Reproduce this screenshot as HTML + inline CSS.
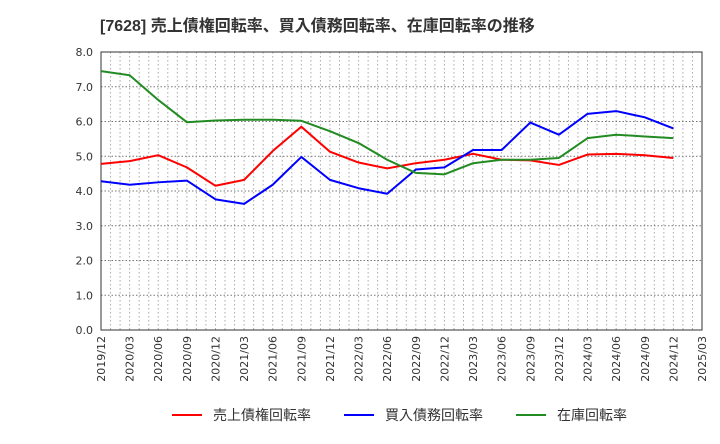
<!DOCTYPE html>
<html><head><meta charset="utf-8"><style>
body{margin:0;background:#fff;font-family:"DejaVu Sans","Noto Sans CJK JP",sans-serif;}
</style></head><body>
<svg width="720" height="440" xmlns="http://www.w3.org/2000/svg">
<text x="100" y="31" font-size="16" font-weight="bold" fill="#333" font-family="Liberation Sans,Noto Sans CJK JP,sans-serif">[7628]  売上債権回転率、買入債務回転率、在庫回転率の推移</text>
<g id="grid"></g><g id="axes"></g><g id="series"></g>
<g font-size="14" fill="#333" font-family="Liberation Sans,Noto Sans CJK JP,sans-serif">
<line x1="172" y1="415" x2="202" y2="415" stroke="#ff0000" stroke-width="2"/><text x="213" y="420">売上債権回転率</text>
<line x1="344" y1="415" x2="374" y2="415" stroke="#0000ff" stroke-width="2"/><text x="385" y="420">買入債務回転率</text>
<line x1="516" y1="415" x2="546" y2="415" stroke="#228b22" stroke-width="2"/><text x="557" y="420">在庫回転率</text>
</g>
</svg>
<script>
const xLabels=["2019/12","2020/03","2020/06","2020/09","2020/12","2021/03","2021/06","2021/09","2021/12","2022/03","2022/06","2022/09","2022/12","2023/03","2023/06","2023/09","2023/12","2024/03","2024/06","2024/09","2024/12","2025/03"];
const yTicks=[0,1,2,3,4,5,6,7,8];
const receivables=[4.78,4.86,5.03,4.68,4.15,4.32,5.15,5.85,5.13,4.82,4.65,4.80,4.90,5.07,4.90,4.88,4.75,5.05,5.07,5.03,4.95];
const payables=[4.28,4.18,4.25,4.30,3.76,3.63,4.18,4.98,4.32,4.08,3.92,4.62,4.68,5.18,5.18,5.97,5.62,6.22,6.30,6.12,5.80];
const inventory=[7.45,7.33,6.62,5.98,6.03,6.05,6.05,6.02,5.72,5.38,4.90,4.52,4.48,4.80,4.90,4.90,4.95,5.52,5.62,5.57,5.52];
const L=101,R=702,T=52,B=330,NS="http://www.w3.org/2000/svg";
const step=(R-L)/(xLabels.length-1);
const xs=i=>L+i*step, ys=v=>B-(v/8)*(B-T);
function mk(tag,attrs,parent){const e=document.createElementNS(NS,tag);for(const k in attrs)e.setAttribute(k,attrs[k]);document.getElementById(parent).appendChild(e);return e;}
for(let m=1;m<(xLabels.length-1)*3;m++){const x=L+m*step/3;
const g=mk('line',{x1:x,x2:x,y1:T,y2:B,stroke:'#aaa','stroke-dasharray':'1.5,2.5','stroke-width':1},'grid');

}
yTicks.forEach(v=>{const y=ys(v);
if(v>0&&v<8){const g=mk('line',{x1:L,x2:R,y1:y,y2:y,stroke:'#777','stroke-dasharray':'1.5,2','stroke-width':1},'grid');

}
const t=mk('text',{x:L-8,y:y+4,'text-anchor':'end','font-size':11,fill:'#333'},'axes');t.textContent=v.toFixed(1);

});
const fr=mk('rect',{x:L,y:T,width:R-L,height:B-T,fill:'none',stroke:'#333','stroke-width':1},'axes');


xLabels.forEach((s,i)=>{const x=xs(i)+4,y=B+6;
const t=mk('text',{x:x,y:y,'text-anchor':'end','font-size':11,fill:'#333',transform:`rotate(-90 ${x} ${y})`},'axes');t.textContent=s;

});
[[receivables,'#ff0000','receivables-turnover-line'],[payables,'#0000ff','payables-turnover-line'],[inventory,'#228b22','inventory-turnover-line']].forEach(([d,c,n])=>{
const p=mk('polyline',{points:d.map((v,i)=>xs(i)+','+ys(v)).join(' '),fill:'none',stroke:c,'stroke-width':2,'stroke-linejoin':'round'},'series');

});
</script>
</body></html>
